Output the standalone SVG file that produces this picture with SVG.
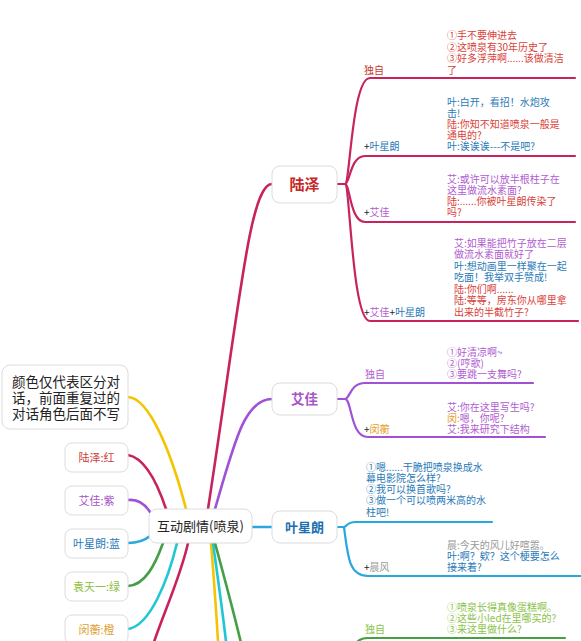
<svg xmlns="http://www.w3.org/2000/svg" width="581" height="641" viewBox="0 0 581 641">
<style>
text{font-family:"Noto Sans CJK SC","Noto Sans",sans-serif;}
.box{fill:#fff;stroke:#dcdcdc;stroke-width:1;}
.c{fill:none;stroke-linecap:round;stroke-width:2.6;}
.b{fill:none;stroke-linecap:round;stroke-width:2.2;}
.red{stroke:#c8235f;}
.pur{stroke:#a052d6;}
.blu{stroke:#29a8e0;}
.yel{stroke:#f5c400;}
.grn{stroke:#43a047;}
.cyn{stroke:#1fc7d4;}
.s{font-size:10px;}
.l{font-size:11px;}
.tr{fill:#d8423a;}
.tb{fill:#2a7ab8;}
.tp{fill:#b05cd0;}
.tg{fill:#9a9a9a;}
.to{fill:#e5a028;}
.tgr{fill:#8bc34a;}
.tk{fill:#222;}
</style>
<rect width="581" height="641" fill="#fff"/>
<g id="connectors">
  <!-- left side to center -->
  <path class="c yel" d="M128,397 C150,398 172,455 186,509"/>
  <path class="c red" d="M128,455 C145,458 158,485 166,509"/>
  <path class="c pur" d="M128,500 C138,499 145,504 150,512"/>
  <path class="c blu" d="M128,543 C138,543 144,541 150,536"/>
  <path class="c grn" d="M128,586 C145,585 155,565 163,543"/>
  <path class="c cyn" d="M128,629 C150,626 168,580 177,543"/>
  <!-- center to off-screen bottom -->
  <path class="c red" d="M188,543 C180,580 160,620 148,660"/>
  <path class="c yel" d="M211,543 C214,580 217,620 219,660"/>
  <path class="c cyn" d="M213,543 C218,580 224,620 228,660"/>
  <path class="c grn" d="M215,543 C225,580 236,620 245,660"/>
  <!-- center to main topics -->
  <path class="c red" d="M208,509 C240,300 250,184 272,184"/>
  <path class="c pur" d="M215,509 C235,440 245,399 272,399"/>
  <path class="c blu" d="M252,527 L272,527"/>
  <!-- 陆泽 branches -->
  <path class="b red" d="M337,184 L345,184"/>
  <path class="b red" d="M345,184 C350,184 352,78 370,78 L575,78"/>
  <path class="b red" d="M345,184 C350,184 350,156 365,156 L575,156"/>
  <path class="b red" d="M345,184 C350,184 350,222 365,222 L575,222"/>
  <path class="b red" d="M345,184 C350,184 352,321 370,321 L578,321"/>
  <!-- 艾佳 branches -->
  <path class="b pur" d="M337,399 L345,399"/>
  <path class="b pur" d="M345,399 C350,399 350,383 365,383 L533,383"/>
  <path class="b pur" d="M345,399 C352,399 350,437 368,437 L545,437"/>
  <!-- 叶星朗 branches -->
  <path class="b blu" d="M337,527 L344,527"/>
  <path class="b blu" d="M344,527 C347,527 346,522 356,522 L492,522"/>
  <path class="b blu" d="M344,527 C348,560 350,576 368,576 L581,576"/>
  <!-- green branch from below -->
  <path class="b grn" d="M352,662 C353,645 356,638 368,638 L565,638"/>
</g>
<g id="note">
  <rect class="box" x="2" y="365" width="126" height="64" rx="8"/>
  <text class="tk" font-size="13.5" x="12" y="387">颜色仅代表区分对</text>
  <text class="tk" font-size="13.5" x="12" y="403">话，前面重复过的</text>
  <text class="tk" font-size="13.5" x="12" y="419">对话角色后面不写</text>
</g>
<g id="legend-luze">
  <rect class="box" x="65" y="443" width="63" height="29" rx="7"/>
  <text class="l" x="96.5" y="461.5" text-anchor="middle" fill="#c9403a">陆泽:红</text>
</g>
<g id="legend-aijia">
  <rect class="box" x="65" y="486" width="63" height="29" rx="7"/>
  <text class="l" x="96.5" y="504.5" text-anchor="middle" fill="#a855c8">艾佳:紫</text>
</g>
<g id="legend-yexinglang">
  <rect class="box" x="65" y="529" width="63" height="29" rx="7"/>
  <text class="l" x="96.5" y="547.5" text-anchor="middle" fill="#2a7ab8">叶星朗:蓝</text>
</g>
<g id="legend-yuantianyi">
  <rect class="box" x="65" y="572" width="63" height="29" rx="7"/>
  <text class="l" x="96.5" y="590.5" text-anchor="middle" fill="#8fbf3f">袁天一:绿</text>
</g>
<g id="legend-minheng">
  <rect class="box" x="65" y="615" width="63" height="29" rx="7"/>
  <text class="l" x="96.5" y="633.5" text-anchor="middle" fill="#e0a030">闵蘅:橙</text>
</g>
<g id="center">
  <rect class="box" x="149" y="509" width="103" height="34" rx="8"/>
  <text x="200.5" y="531" font-size="13" text-anchor="middle" fill="#222">互动剧情(喷泉)</text>
</g>
<g id="luze">
  <rect class="box" x="272" y="166" width="65" height="37" rx="8"/>
  <text x="304.5" y="190" font-size="15" font-weight="bold" text-anchor="middle" fill="#c62828">陆泽</text>
</g>
<g id="aijia">
  <rect class="box" x="272" y="383" width="65" height="32" rx="8"/>
  <text x="304.5" y="404" font-size="13.5" font-weight="600" text-anchor="middle" fill="#a855c8">艾佳</text>
</g>
<g id="yexinglang">
  <rect class="box" x="272" y="511" width="65" height="32" rx="8"/>
  <text x="304.5" y="532" font-size="13" font-weight="bold" text-anchor="middle" fill="#1e6fb0">叶星朗</text>
</g>
<g id="luze-solo">
  <text class="s" x="364" y="73.5" fill="#c0392b">独自</text>
  <text class="s tr" x="447" y="39">①手不要伸进去</text>
  <text class="s tr" x="447" y="50.5">②这喷泉有30年历史了</text>
  <text class="s tr" x="447" y="62">③好多浮萍啊......该做清洁</text>
  <text class="s tr" x="447" y="73.5">了</text>
</g>
<g id="luze-ye">
  <text class="s" x="364" y="150"><tspan class="tk">+</tspan><tspan class="tb">叶星朗</tspan></text>
  <text class="s tb" x="447" y="106">叶:白开，看招！水炮攻</text>
  <text class="s tb" x="447" y="117">击!</text>
  <text class="s tr" x="447" y="128">陆:你知不知道喷泉一般是</text>
  <text class="s tr" x="447" y="139">通电的?</text>
  <text class="s tb" x="447" y="150">叶:诶诶诶---不是吧?</text>
</g>
<g id="luze-ai">
  <text class="s" x="364" y="216"><tspan class="tk">+</tspan><tspan class="tp">艾佳</tspan></text>
  <text class="s tp" x="447" y="183">艾:或许可以放半根柱子在</text>
  <text class="s tp" x="447" y="194">这里做流水素面?</text>
  <text class="s tr" x="447" y="205">陆:......你被叶星朗传染了</text>
  <text class="s tr" x="447" y="216">吗?</text>
</g>
<g id="luze-ai-ye">
  <text class="s" x="364" y="315.5"><tspan class="tk">+</tspan><tspan class="tp">艾佳</tspan><tspan class="tk">+</tspan><tspan class="tb">叶星朗</tspan></text>
  <text class="s tp" x="454" y="246.5">艾:如果能把竹子放在二层</text>
  <text class="s tp" x="454" y="258">做流水素面就好了</text>
  <text class="s tb" x="454" y="269.5">叶:想动画里一样聚在一起</text>
  <text class="s tb" x="454" y="281">吃面！我举双手赞成!</text>
  <text class="s tr" x="454" y="292.5">陆:你们啊......</text>
  <text class="s tr" x="454" y="304">陆:等等，房东你从哪里拿</text>
  <text class="s tr" x="454" y="315.5">出来的半截竹子?</text>
</g>
<g id="aijia-solo">
  <text class="s tp" x="365" y="378">独自</text>
  <text class="s tp" x="447" y="356">①好清凉啊~</text>
  <text class="s tp" x="447" y="367">②(哼歌)</text>
  <text class="s tp" x="447" y="378">③要跳一支舞吗?</text>
</g>
<g id="aijia-min">
  <text class="s" x="364" y="433"><tspan class="tk">+</tspan><tspan class="to">闵蘅</tspan></text>
  <text class="s tp" x="447" y="411">艾:你在这里写生吗?</text>
  <text class="s" x="447" y="422"><tspan class="to">闵:</tspan><tspan class="tp">嗯，你呢?</tspan></text>
  <text class="s tp" x="447" y="433">艾:我来研究下结构</text>
</g>
<g id="ye-solo">
  <text class="s tb" x="366" y="470.5">①嗯......干脆把喷泉换成水</text>
  <text class="s tb" x="366" y="481.8">幕电影院怎么样?</text>
  <text class="s tb" x="366" y="493">②我可以换首歌吗?</text>
  <text class="s tb" x="366" y="504.3">③做一个可以喷两米高的水</text>
  <text class="s tb" x="366" y="515.6">柱吧!</text>
</g>
<g id="ye-chen">
  <text class="s" x="364" y="570.5"><tspan class="tk">+</tspan><tspan class="tg">晨风</tspan></text>
  <text class="s tg" x="447" y="548.5">晨:今天的风儿好喧嚣。</text>
  <text class="s tb" x="447" y="559.5">叶:啊？欸？这个梗要怎么</text>
  <text class="s tb" x="447" y="570.5">接来着?</text>
</g>
<g id="yuan-solo">
  <text class="s tgr" x="365" y="632.5">独自</text>
  <text class="s tgr" x="447" y="610.5">①喷泉长得真像蛋糕啊。</text>
  <text class="s tgr" x="447" y="621.5">②这些小led在里哪买的?</text>
  <text class="s tgr" x="447" y="632.5">③来这里做什么?</text>
</g>
</svg>
